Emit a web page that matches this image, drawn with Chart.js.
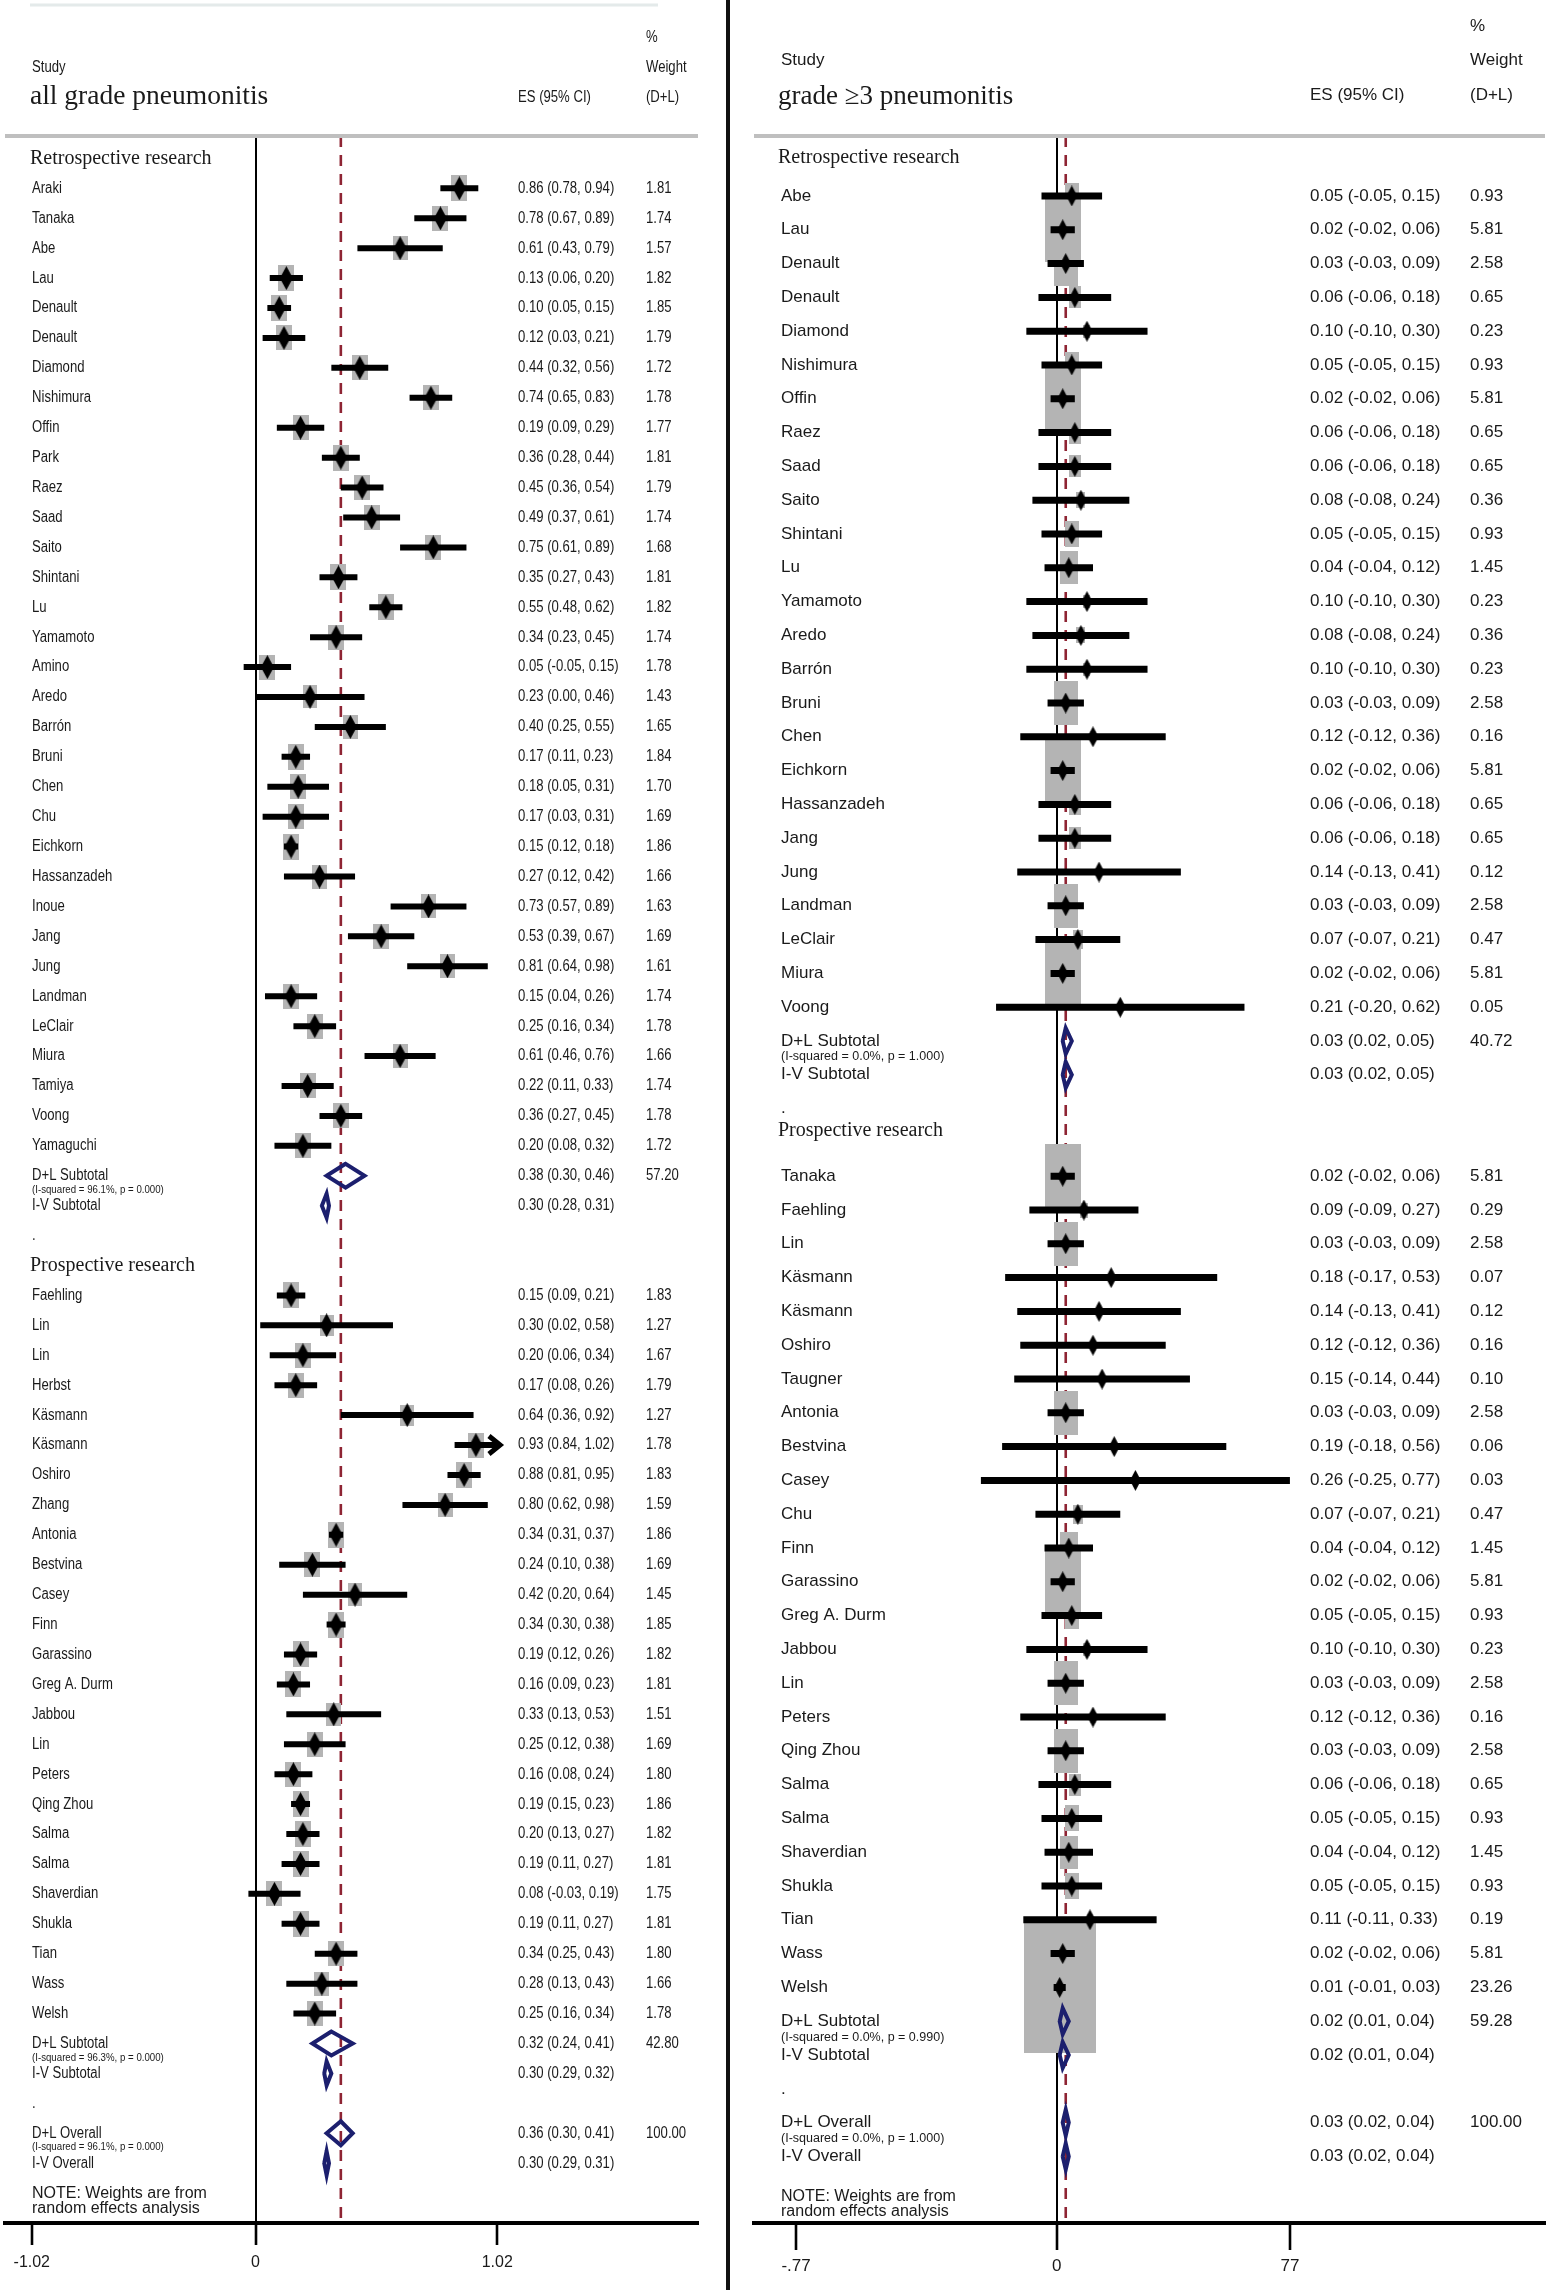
<!DOCTYPE html>
<html>
<head>
<meta charset="utf-8">
<script src="https://cdn.jsdelivr.net/npm/chart.js@4.4.1/dist/chart.umd.min.js"></script>
<style>
    html, body { margin: 0; padding: 0; background: #fff; }
    #wrap { position: relative; width: 1550px; height: 2290px; overflow: hidden; }
    #cAll { position: absolute; left: 0; top: 0; }
    #cG3 { position: absolute; left: 730px; top: 0; }
    #divider { position: absolute; left: 726px; top: 0; width: 4px; height: 2290px; background: #111; }
</style>
</head>
<body>
<div id="wrap">
    <canvas id="cAll" width="726" height="2290"></canvas>
    <div id="divider"></div>
    <canvas id="cG3" width="820" height="2290"></canvas>
</div>
<script>
// ---------- all grade pneumonitis ----------
const allRetroStudy = ['Araki', 'Tanaka', 'Abe', 'Lau', 'Denault', 'Denault', 'Diamond', 'Nishimura', 'Offin', 'Park', 'Raez', 'Saad', 'Saito', 'Shintani', 'Lu', 'Yamamoto', 'Amino', 'Aredo', 'Barrón', 'Bruni', 'Chen', 'Chu', 'Eichkorn', 'Hassanzadeh', 'Inoue', 'Jang', 'Jung', 'Landman', 'LeClair', 'Miura', 'Tamiya', 'Voong', 'Yamaguchi'];
const allRetroEs = [0.86, 0.78, 0.61, 0.13, 0.10, 0.12, 0.44, 0.74, 0.19, 0.36, 0.45, 0.49, 0.75, 0.35, 0.55, 0.34, 0.05, 0.23, 0.40, 0.17, 0.18, 0.17, 0.15, 0.27, 0.73, 0.53, 0.81, 0.15, 0.25, 0.61, 0.22, 0.36, 0.20];
const allRetroLo = [0.78, 0.67, 0.43, 0.06, 0.05, 0.03, 0.32, 0.65, 0.09, 0.28, 0.36, 0.37, 0.61, 0.27, 0.48, 0.23, -0.05, 0.00, 0.25, 0.11, 0.05, 0.03, 0.12, 0.12, 0.57, 0.39, 0.64, 0.04, 0.16, 0.46, 0.11, 0.27, 0.08];
const allRetroHi = [0.94, 0.89, 0.79, 0.20, 0.15, 0.21, 0.56, 0.83, 0.29, 0.44, 0.54, 0.61, 0.89, 0.43, 0.62, 0.45, 0.15, 0.46, 0.55, 0.23, 0.31, 0.31, 0.18, 0.42, 0.89, 0.67, 0.98, 0.26, 0.34, 0.76, 0.33, 0.45, 0.32];
const allRetroWt = [1.81, 1.74, 1.57, 1.82, 1.85, 1.79, 1.72, 1.78, 1.77, 1.81, 1.79, 1.74, 1.68, 1.81, 1.82, 1.74, 1.78, 1.43, 1.65, 1.84, 1.70, 1.69, 1.86, 1.66, 1.63, 1.69, 1.61, 1.74, 1.78, 1.66, 1.74, 1.78, 1.72];

const allProStudy = ['Faehling', 'Lin', 'Lin', 'Herbst', 'Käsmann', 'Käsmann', 'Oshiro', 'Zhang', 'Antonia', 'Bestvina', 'Casey', 'Finn', 'Garassino', 'Greg A. Durm', 'Jabbou', 'Lin', 'Peters', 'Qing Zhou', 'Salma', 'Salma', 'Shaverdian', 'Shukla', 'Tian', 'Wass', 'Welsh'];
const allProEs = [0.15, 0.30, 0.20, 0.17, 0.64, 0.93, 0.88, 0.80, 0.34, 0.24, 0.42, 0.34, 0.19, 0.16, 0.33, 0.25, 0.16, 0.19, 0.20, 0.19, 0.08, 0.19, 0.34, 0.28, 0.25];
const allProLo = [0.09, 0.02, 0.06, 0.08, 0.36, 0.84, 0.81, 0.62, 0.31, 0.10, 0.20, 0.30, 0.12, 0.09, 0.13, 0.12, 0.08, 0.15, 0.13, 0.11, -0.03, 0.11, 0.25, 0.13, 0.16];
const allProHi = [0.21, 0.58, 0.34, 0.26, 0.92, 1.02, 0.95, 0.98, 0.37, 0.38, 0.64, 0.38, 0.26, 0.23, 0.53, 0.38, 0.24, 0.23, 0.27, 0.27, 0.19, 0.27, 0.43, 0.43, 0.34];
const allProWt = [1.83, 1.27, 1.67, 1.79, 1.27, 1.78, 1.83, 1.59, 1.86, 1.69, 1.45, 1.85, 1.82, 1.81, 1.51, 1.69, 1.80, 1.86, 1.82, 1.81, 1.75, 1.81, 1.80, 1.66, 1.78];

// summaries: retro D+L, retro I-V, pro D+L, pro I-V, overall D+L, overall I-V
const sumLabels = ['D+L Subtotal', 'I-V Subtotal', 'D+L Subtotal', 'I-V Subtotal', 'D+L Overall', 'I-V Overall'];
const allSumEs = [0.38, 0.30, 0.32, 0.30, 0.36, 0.30];
const allSumLo = [0.30, 0.28, 0.24, 0.29, 0.30, 0.29];
const allSumHi = [0.46, 0.31, 0.41, 0.32, 0.41, 0.31];
const allSumWt = [57.20, null, 42.80, null, 100.00, null];
const allSumHet = ['(I-squared = 96.1%, p = 0.000)', '', '(I-squared = 96.3%, p = 0.000)', '', '(I-squared = 96.1%, p = 0.000)', ''];

const allTickVals = [-0.944, 0, 1.02];
const allTickLabels = ['-1.02', '0', '1.02'];

// ---------- grade >=3 pneumonitis ----------
const g3RetroStudy = ['Abe', 'Lau', 'Denault', 'Denault', 'Diamond', 'Nishimura', 'Offin', 'Raez', 'Saad', 'Saito', 'Shintani', 'Lu', 'Yamamoto', 'Aredo', 'Barrón', 'Bruni', 'Chen', 'Eichkorn', 'Hassanzadeh', 'Jang', 'Jung', 'Landman', 'LeClair', 'Miura', 'Voong'];
const g3RetroEs = [0.05, 0.02, 0.03, 0.06, 0.10, 0.05, 0.02, 0.06, 0.06, 0.08, 0.05, 0.04, 0.10, 0.08, 0.10, 0.03, 0.12, 0.02, 0.06, 0.06, 0.14, 0.03, 0.07, 0.02, 0.21];
const g3RetroLo = [-0.05, -0.02, -0.03, -0.06, -0.10, -0.05, -0.02, -0.06, -0.06, -0.08, -0.05, -0.04, -0.10, -0.08, -0.10, -0.03, -0.12, -0.02, -0.06, -0.06, -0.13, -0.03, -0.07, -0.02, -0.20];
const g3RetroHi = [0.15, 0.06, 0.09, 0.18, 0.30, 0.15, 0.06, 0.18, 0.18, 0.24, 0.15, 0.12, 0.30, 0.24, 0.30, 0.09, 0.36, 0.06, 0.18, 0.18, 0.41, 0.09, 0.21, 0.06, 0.62];
const g3RetroWt = [0.93, 5.81, 2.58, 0.65, 0.23, 0.93, 5.81, 0.65, 0.65, 0.36, 0.93, 1.45, 0.23, 0.36, 0.23, 2.58, 0.16, 5.81, 0.65, 0.65, 0.12, 2.58, 0.47, 5.81, 0.05];

const g3ProStudy = ['Tanaka', 'Faehling', 'Lin', 'Käsmann', 'Käsmann', 'Oshiro', 'Taugner', 'Antonia', 'Bestvina', 'Casey', 'Chu', 'Finn', 'Garassino', 'Greg A. Durm', 'Jabbou', 'Lin', 'Peters', 'Qing Zhou', 'Salma', 'Salma', 'Shaverdian', 'Shukla', 'Tian', 'Wass', 'Welsh'];
const g3ProEs = [0.02, 0.09, 0.03, 0.18, 0.14, 0.12, 0.15, 0.03, 0.19, 0.26, 0.07, 0.04, 0.02, 0.05, 0.10, 0.03, 0.12, 0.03, 0.06, 0.05, 0.04, 0.05, 0.11, 0.02, 0.01];
const g3ProLo = [-0.02, -0.09, -0.03, -0.17, -0.13, -0.12, -0.14, -0.03, -0.18, -0.25, -0.07, -0.04, -0.02, -0.05, -0.10, -0.03, -0.12, -0.03, -0.06, -0.05, -0.04, -0.05, -0.11, -0.02, -0.01];
const g3ProHi = [0.06, 0.27, 0.09, 0.53, 0.41, 0.36, 0.44, 0.09, 0.56, 0.77, 0.21, 0.12, 0.06, 0.15, 0.30, 0.09, 0.36, 0.09, 0.18, 0.15, 0.12, 0.15, 0.33, 0.06, 0.03];
const g3ProWt = [5.81, 0.29, 2.58, 0.07, 0.12, 0.16, 0.10, 2.58, 0.06, 0.03, 0.47, 1.45, 5.81, 0.93, 0.23, 2.58, 0.16, 2.58, 0.65, 0.93, 1.45, 0.93, 0.19, 5.81, 23.26];

const g3SumEs = [0.03, 0.03, 0.02, 0.02, 0.03, 0.03];
const g3SumLo = [0.02, 0.02, 0.01, 0.01, 0.02, 0.02];
const g3SumHi = [0.05, 0.05, 0.04, 0.04, 0.04, 0.04];
const g3SumWt = [40.72, null, 59.28, null, 100.00, null];
const g3SumHet = ['(I-squared = 0.0%, p = 1.000)', '', '(I-squared = 0.0%, p = 0.990)', '', '(I-squared = 0.0%, p = 1.000)', ''];

const g3TickVals = [-0.86, 0, 0.77];
const g3TickLabels = ['-.77', '0', '77'];

const NAVY = '#1c1f6e';
const MAROON = '#8e2433';
const INK = '#1a1a1a';

// ---------- helpers ----------
let rectImg = (w, h, color) => {
    let c = document.createElement('canvas');
    c.width = Math.max(1, Math.round(w));
    c.height = Math.max(1, Math.round(h));
    let g = c.getContext('2d');
    g.fillStyle = color;
    g.fillRect(0, 0, c.width, c.height);
    return c;
};

let diamondImg = (w, h) => {
    let c = document.createElement('canvas');
    c.width = w;
    c.height = h;
    let g = c.getContext('2d');
    g.fillStyle = '#000';
    g.beginPath();
    g.moveTo(w / 2, 0);
    g.lineTo(w, h / 2);
    g.lineTo(w / 2, h);
    g.lineTo(0, h / 2);
    g.closePath();
    g.fill();
    return c;
};

let ciText = (es, lo, hi) => `${es.toFixed(2)} (${lo.toFixed(2)}, ${hi.toFixed(2)})`;

let txt = (ctx, s, x, y, font, sx) => {
    ctx.save();
    ctx.translate(x, y);
    ctx.scale(sx, 1);
    ctx.font = font;
    ctx.fillText(s, 0, 0);
    ctx.restore();
};

// row list: headers, studies, subtotals, spacer dots, overall, note
let buildRows = (p) => {
    let rows = [];
    let i = 0;
    let group = (head, g, s0, h) => {
        rows.push({kind: 'head', text: head, h: h, i: i++});
        g.study.forEach((name, k) => {
            rows.push({kind: 'study', text: name, es: g.es[k], lo: g.lo[k], hi: g.hi[k], wt: g.wt[k], i: i++});
        });
        [s0, s0 + 1].forEach(k => rows.push({kind: 'sum', k: k, i: i++}));
        rows.push({kind: 'dot', i: i++});
    };
    group('Retrospective research', p.retro, 0, 0);
    group('Prospective research', p.pro, 2, 1);
    [4, 5].forEach(k => rows.push({kind: 'sum', k: k, i: i++}));
    rows.push({kind: 'note', i: i++});
    return rows;
};

let makeForest = (canvasId, p) => {
    let L = p.look;
    let rows = buildRows(p);
    let studies = rows.filter(r => r.kind === 'study');
    let sums = rows.filter(r => r.kind === 'sum');
    let dia = diamondImg(L.diaW, L.diaH);

    let ciData = [];
    let arrowData = [];
    studies.forEach(r => {
        let top = Math.min(r.hi, p.clipHi);
        ciData.push({x: r.lo, y: r.i}, {x: top, y: r.i}, {x: null, y: null});
        if (r.hi >= p.clipHi) {
            arrowData.push({x: p.clipHi - 0.035, y: r.i - 0.3}, {x: p.clipHi + 0.012, y: r.i}, {x: p.clipHi - 0.035, y: r.i + 0.3}, {x: null, y: null});
        }
    });

    let sumData = [];
    sums.forEach(r => {
        let es = p.sum.es[r.k], lo = p.sum.lo[r.k], hi = p.sum.hi[r.k];
        sumData.push({x: lo, y: r.i}, {x: es, y: r.i - L.sumHalf}, {x: hi, y: r.i}, {x: es, y: r.i + L.sumHalf}, {x: lo, y: r.i}, {x: es, y: r.i - L.sumHalf}, {x: null, y: null});
    });

    let refEs = p.sum.es[4];

    let textPlugin = {
        id: 'forestText' + canvasId,
        afterDraw(chart) {
            let ctx = chart.ctx;
            let a = chart.chartArea;
            let ys = chart.scales.y;
            ctx.save();
            // header rule
            ctx.strokeStyle = '#bfbfbf';
            ctx.lineWidth = 4;
            ctx.beginPath();
            ctx.moveTo(a.left, a.top);
            ctx.lineTo(a.right, a.top);
            ctx.stroke();
            if (L.topRule) {
                ctx.strokeStyle = '#e4eaea';
                ctx.lineWidth = 3;
                ctx.beginPath();
                ctx.moveTo(L.topRule[0], 5);
                ctx.lineTo(L.topRule[1], 5);
                ctx.stroke();
            }
            ctx.fillStyle = INK;
            ctx.textAlign = 'left';
            ctx.textBaseline = 'middle';
            // column headers
            txt(ctx, 'Study', L.labelX, L.hy.study, L.font, L.sx);
            txt(ctx, p.title, L.headX, L.hy.title, L.titleFont, 1);
            txt(ctx, 'ES (95% CI)', L.esX, L.hy.es, L.font, L.sx);
            txt(ctx, '%', L.wtX, L.hy.pct, L.font, L.sx);
            txt(ctx, 'Weight', L.wtX, L.hy.weight, L.font, L.sx);
            txt(ctx, '(D+L)', L.wtX, L.hy.dl, L.font, L.sx);

            rows.forEach(r => {
                let y = ys.getPixelForValue(r.i);
                if (r.kind === 'head') {
                    txt(ctx, r.text, L.headX, y + L.headShift[r.h], L.headFont, 1);
                } else if (r.kind === 'study') {
                    txt(ctx, r.text, L.labelX, y, L.font, L.sx);
                    txt(ctx, ciText(r.es, r.lo, r.hi), L.esX, y, L.font, L.sx);
                    txt(ctx, r.wt.toFixed(2), L.wtX, y, L.font, L.sx);
                } else if (r.kind === 'sum') {
                    txt(ctx, sumLabels[r.k], L.labelX, y, L.font, L.sx);
                    txt(ctx, ciText(p.sum.es[r.k], p.sum.lo[r.k], p.sum.hi[r.k]), L.esX, y, L.font, L.sx);
                    if (p.sum.wt[r.k] !== null) {
                        txt(ctx, p.sum.wt[r.k].toFixed(2), L.wtX, y, L.font, L.sx);
                    }
                    if (p.sum.het[r.k]) {
                        txt(ctx, p.sum.het[r.k], L.labelX, y + L.hetDy, L.hetFont, L.hetSx);
                    }
                } else if (r.kind === 'dot') {
                    txt(ctx, '.', L.labelX, y, L.font, L.sx);
                } else if (r.kind === 'note') {
                    txt(ctx, 'NOTE: Weights are from', L.labelX, y + L.noteDy[0], L.noteFont, 1);
                    txt(ctx, 'random effects analysis', L.labelX, y + L.noteDy[1], L.noteFont, 1);
                }
            });
            ctx.restore();
        }
    };

    return new Chart(document.getElementById(canvasId), {
        type: 'scatter',
        data: {
            datasets: [
                {
                    // reference line at overall D+L estimate
                    data: [{x: refEs, y: p.yMin}, {x: refEs, y: p.yMax}],
                    showLine: true, borderColor: MAROON, borderWidth: 2.6, borderDash: [11, 8],
                    pointRadius: 0, order: 10
                },
                {
                    // weight boxes
                    data: studies.map(r => ({x: r.es, y: r.i})),
                    pointStyle: studies.map(r => rectImg(L.boxW * Math.sqrt(r.wt), L.boxH * Math.sqrt(r.wt), '#b4b4b4')),
                    pointRadius: 3, order: 9
                },
                {
                    data: ciData,
                    showLine: true, borderColor: '#000', borderWidth: L.ciW, borderCapStyle: 'butt',
                    pointRadius: 0, order: 8
                },
                {
                    data: arrowData,
                    showLine: true, borderColor: '#000', borderWidth: 5, borderJoinStyle: 'miter',
                    pointRadius: 0, order: 7
                },
                {
                    data: studies.map(r => ({x: r.es, y: r.i})),
                    pointStyle: dia, pointRadius: 3, order: 6
                },
                {
                    data: sumData,
                    showLine: true, borderColor: NAVY, borderWidth: 4, borderJoinStyle: 'miter',
                    pointRadius: 0, order: 5
                }
            ]
        },
        options: {
            responsive: false,
            devicePixelRatio: 1,
            animation: false,
            events: [],
            layout: {padding: {left: L.padL, right: L.padR, top: 136, bottom: 0}},
            plugins: {legend: {display: false}, tooltip: {enabled: false}},
            scales: {
                x: {
                    type: 'linear', min: p.xMin, max: p.xMax, offset: false,
                    afterBuildTicks: s => { s.ticks = p.ticks.map(v => ({value: v})); },
                    afterFit: s => { s.height = 2290 - 2223; },
                    border: {display: true, color: '#000', width: 4},
                    grid: {
                        drawOnChartArea: true,
                        color: c => (c.tick && c.tick.value === 0) ? '#000' : 'rgba(0,0,0,0)',
                        lineWidth: 2,
                        tickLength: L.tickLen,
                        tickColor: '#000',
                        tickWidth: 2.6
                    },
                    ticks: {
                        autoSkip: false, maxRotation: 0, padding: L.tickPad, color: INK,
                        font: {family: L.tickFamily, size: L.tickSize},
                        callback: (v, i) => p.tickLabels[i]
                    }
                },
                y: {
                    type: 'linear', min: p.yMin, max: p.yMax, reverse: true, display: false, offset: false
                }
            }
        },
        plugins: [textPlugin]
    });
};

makeForest('cAll', {
    title: 'all grade pneumonitis',
    retro: {study: allRetroStudy, es: allRetroEs, lo: allRetroLo, hi: allRetroHi, wt: allRetroWt},
    pro: {study: allProStudy, es: allProEs, lo: allProLo, hi: allProHi, wt: allProWt},
    sum: {es: allSumEs, lo: allSumLo, hi: allSumHi, wt: allSumWt, het: allSumHet},
    ticks: allTickVals, tickLabels: allTickLabels,
    xMin: -1.057, xMax: 1.867, yMin: -0.749, yMax: 69.0, clipHi: 1.02,
    look: {
        padL: 5, padR: 28, tickLen: 22, tickPad: 8, tickSize: 16,
        tickFamily: "'Liberation Sans Narrow', 'Liberation Sans', sans-serif",
        labelX: 32, headX: 30, esX: 518, wtX: 646,
        font: '16px "Liberation Sans"', sx: 0.82,
        headFont: '20px "Liberation Serif"', headShift: [0, 0],
        titleFont: '27.5px "Liberation Serif"',
        hetFont: '11px "Liberation Sans"', hetSx: 0.88, hetDy: 14,
        noteFont: '16px "Liberation Sans"', noteDy: [1, 16],
        hy: {study: 68, title: 97, es: 98, pct: 38, weight: 68, dl: 98},
        boxW: 12, boxH: 19, diaW: 13, diaH: 24, ciW: 6, sumHalf: 0.40,
        topRule: [30, 658]
    }
});

makeForest('cG3', {
    title: 'grade \u22653 pneumonitis',
    retro: {study: g3RetroStudy, es: g3RetroEs, lo: g3RetroLo, hi: g3RetroHi, wt: g3RetroWt},
    pro: {study: g3ProStudy, es: g3ProEs, lo: g3ProLo, hi: g3ProHi, wt: g3ProWt},
    sum: {es: g3SumEs, lo: g3SumLo, hi: g3SumHi, wt: g3SumWt, het: g3SumHet},
    ticks: g3TickVals, tickLabels: g3TickLabels,
    xMin: -0.999, xMax: 1.612, yMin: -0.775, yMax: 60.97, clipHi: 9,
    look: {
        padL: 24, padR: 5, tickLen: 27, tickPad: 6, tickSize: 17,
        tickFamily: "'Liberation Sans', sans-serif",
        labelX: 51, headX: 48, esX: 580, wtX: 740,
        font: '17px "Liberation Sans"', sx: 1,
        headFont: '20px "Liberation Serif"', headShift: [-4, -12],
        titleFont: '27px "Liberation Serif"',
        hetFont: '12.5px "Liberation Sans"', hetSx: 1, hetDy: 16,
        noteFont: '16px "Liberation Sans"', noteDy: [6, 21],
        hy: {study: 60, title: 97, es: 95, pct: 26, weight: 60, dl: 95},
        boxW: 14.9, boxH: 27.1, diaW: 11, diaH: 21, ciW: 7, sumHalf: 0.385,
        topRule: null
    }
});
</script>
</body>
</html>
